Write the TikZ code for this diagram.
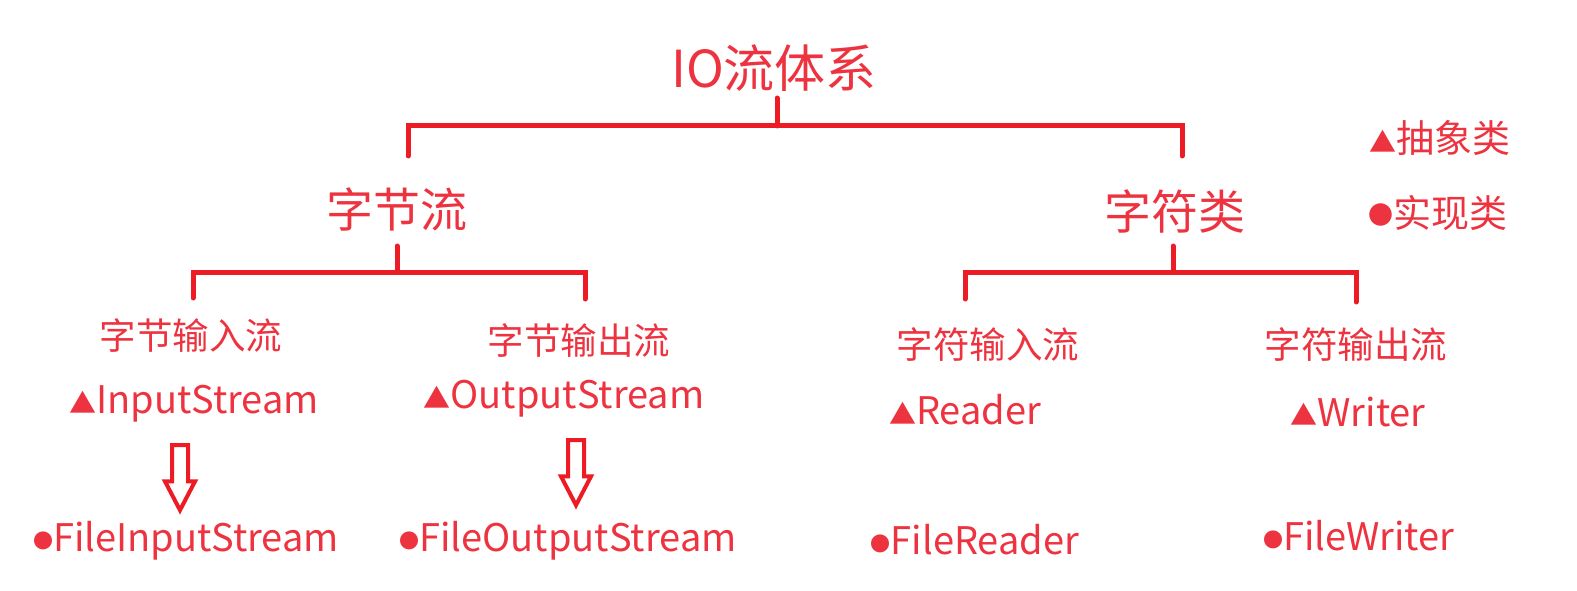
\documentclass[tikz,border=0pt]{standalone}
\usepackage{fontspec}
\setmainfont{Noto Sans CJK SC}
\usetikzlibrary{shapes.arrows}

\definecolor{ioRed}{RGB}{238,51,64}
\definecolor{barRed}{RGB}{237,28,36}

% marques des classes
\newcommand{\absMark}{{\fontsize{27}{27}\selectfont\raisebox{0.5pt}{▲}}}
\newcommand{\implMark}[1][20]{{\fontsize{#1}{#1}\selectfont\raisebox{3.5pt}{●}}}

\tikzset{
  lbl/.style={text=ioRed, inner sep=0pt, font=\fontsize{#1}{#1}\selectfont},
  bar/.style={draw=barRed, line width=5pt, line cap=round},
  hollow/.style={single arrow, draw=barRed, line width=4pt, fill=white,
    shape border rotate=270, inner sep=6pt, minimum height=65pt,
    minimum width=30pt, single arrow head extend=7pt,
    single arrow tip angle=55},
}

\begin{document}
\begin{tikzpicture}[x=1pt, y=-1pt]

  \useasboundingbox (0,0) rectangle (1577,591);

  % Titres
  \node[lbl=51] (io) at (774,68) {IO流体系};
  \node[lbl=47] (byte) at (397,209) {字节流};
  \node[lbl=47] (char) at (1175,211) {字符类};

  % Legende
  \node[lbl=38] (abs) at (1440,138) {\absMark{}抽象类};
  \node[lbl=38] (impl) at (1438,213) {\implMark[25]{}实现类};

  % Sous-categories
  \node[lbl=36.5] (byteIn) at (191,335) {字节输入流};
  \node[lbl=36.5] (byteOut) at (579,340) {字节输出流};
  \node[lbl=36.5] (charIn) at (988,345) {字符输入流};
  \node[lbl=36.5] (charOut) at (1356,344) {字符输出流};

  % Classes abstraites
  \node[lbl=38] (inStream) at (194,404) {\absMark{}InputStream};
  \node[lbl=38] (outStream) at (564,399) {\absMark{}OutputStream};
  \node[lbl=38] (reader) at (965,410) {\absMark{}Reader};
  \node[lbl=38] (writer) at (1358,412) {\absMark{}Writer};

  % Classes concretes
  \node[lbl=38] (fileIn) at (186,541) {\implMark{}FileInputStream};
  \node[lbl=38] (fileOut) at (568,541) {\implMark{}FileOutputStream};
  \node[lbl=38] (fileReader) at (975,540) {\implMark{}FileReader};
  \node[lbl=38] (fileWriter) at (1359,536) {\implMark{}FileWriter};

  % Fleches creuses
  \node[hollow] (inArrow) at (180,470) {};
  \node[hollow] (outArrow) at (576,465) {};

  % Accolade du haut
  \coordinate (ioStem) at (777,98);
  \coordinate (topBar) at (777,126);
  \coordinate (byteDrop) at (408,156);
  \coordinate (charDrop) at (1182,156);
  \draw[bar] (ioStem) -- (topBar);
  \draw[bar] (byteDrop) -- (byteDrop |- topBar) -- (charDrop |- topBar) -- (charDrop);

  % Accolade flux d'octets
  \coordinate (byteStem) at (397,246);
  \coordinate (byteBar) at (397,272);
  \coordinate (byteInDrop) at (193,298);
  \coordinate (byteOutDrop) at (585,299);
  \draw[bar] (byteStem) -- (byteBar);
  \draw[bar] (byteInDrop) -- (byteInDrop |- byteBar) -- (byteOutDrop |- byteBar) -- (byteOutDrop);

  % Accolade flux de caracteres
  \coordinate (charStem) at (1173,246);
  \coordinate (charBar) at (1173,272);
  \coordinate (charInDrop) at (965,299);
  \coordinate (charOutDrop) at (1356,302);
  \draw[bar] (charStem) -- (charBar);
  \draw[bar] (charInDrop) -- (charInDrop |- charBar) -- (charOutDrop |- charBar) -- (charOutDrop);

\end{tikzpicture}
\end{document}
